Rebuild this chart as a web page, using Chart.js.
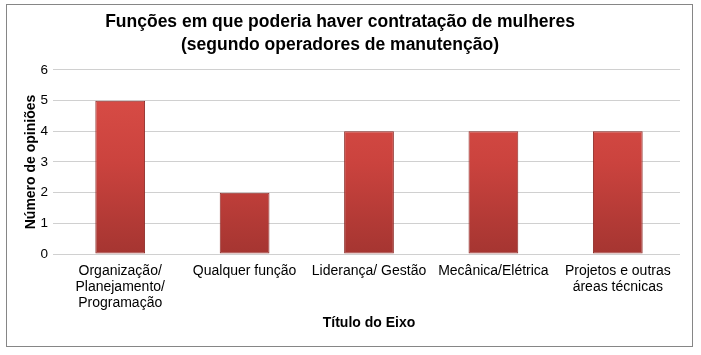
<!DOCTYPE html>
<html>
<head>
<meta charset="utf-8">
<script src="https://cdn.jsdelivr.net/npm/chart.js@4/dist/chart.umd.min.js"></script>
<style>
  html, body { margin: 0; padding: 0; background: #fff; }
  #wrap { width: 701px; height: 355px; position: relative; }
</style>
</head>
<body>
<div id="wrap"><canvas id="c" width="701" height="355"></canvas></div>
<script>
const categories = [
  ["Organização/", "Planejamento/", "Programação"],
  "Qualquer função",
  "Liderança/ Gestão",
  "Mecânica/Elétrica",
  ["Projetos e outras", "áreas técnicas"]
];
const opinions = [5, 2, 4, 4, 4];
const titleLines = ["Funções em que poderia haver contratação de mulheres", "(segundo operadores de manutenção)"];
const xTitle = "Título do Eixo";
const yTitle = "Número de opiniões";

const FONT = "'Liberation Sans', Arial, Helvetica, sans-serif";

const borderPlugin = {
  id: 'outerBorder',
  beforeDraw(chart) {
    const ctx = chart.ctx;
    ctx.save();
    ctx.fillStyle = '#ffffff';
    ctx.fillRect(0, 0, chart.width, chart.height);
    ctx.strokeStyle = '#868686';
    ctx.lineWidth = 1;
    ctx.strokeRect(6.5, 4.5, 686, 342);
    ctx.restore();
  }
};

new Chart(document.getElementById('c'), {
  type: 'bar',
  data: {
    labels: categories,
    datasets: [{
      data: opinions,
      backgroundColor(ctx) {
        const ca = ctx.chart.chartArea;
        if (!ca) return '#c0403b';
        const g = ctx.chart.ctx.createLinearGradient(0, ca.top, 0, ca.bottom);
        g.addColorStop(0, '#dc4f48');
        g.addColorStop(0.5, '#cb433e');
        g.addColorStop(1, '#a53531');
        return g;
      },
      borderColor: '#8e2b27',
      borderWidth: 1,
      borderSkipped: false,
      barPercentage: 0.4,
      categoryPercentage: 1.0
    }]
  },
  options: {
    responsive: false,
    animation: false,
    devicePixelRatio: 1,
    layout: { padding: { top: 4, left: 0, right: 21, bottom: 0 } },
    plugins: {
      legend: { display: false },
      tooltip: { enabled: false },
      title: {
        display: true,
        text: titleLines,
        color: '#000',
        font: { family: FONT, size: 17.5, weight: 'bold', lineHeight: 1.314 },
        padding: { top: 7, bottom: 13 }
      }
    },
    scales: {
      x: {
        grid: { display: false, drawTicks: false },
        border: { display: false },
        ticks: {
          color: '#000',
          font: { family: FONT, size: 14, lineHeight: 1.143 },
          padding: 9,
          maxRotation: 0,
          autoSkip: false
        },
        title: {
          display: true,
          text: xTitle,
          color: '#000',
          font: { family: FONT, size: 14, weight: 'bold', lineHeight: 1.2 },
          padding: { top: 0, bottom: 23 }
        },
        afterFit(scale) { scale.height = 101; }
      },
      y: {
        min: 0,
        max: 6,
        ticks: {
          stepSize: 1,
          color: '#000',
          font: { family: FONT, size: 13.5 },
          padding: 5
        },
        grid: { color: '#d0d0d0', lineWidth: 1, tickLength: 5, drawTicks: true },
        border: { display: false },
        title: {
          display: true,
          text: yTitle,
          color: '#000',
          font: { family: FONT, size: 14, weight: 'bold', lineHeight: 1.2 },
          padding: { top: 23, bottom: 0 }
        },
        afterFit(scale) { scale.width = 58; }
      }
    }
  },
  plugins: [borderPlugin]
});
</script>
</body>
</html>
